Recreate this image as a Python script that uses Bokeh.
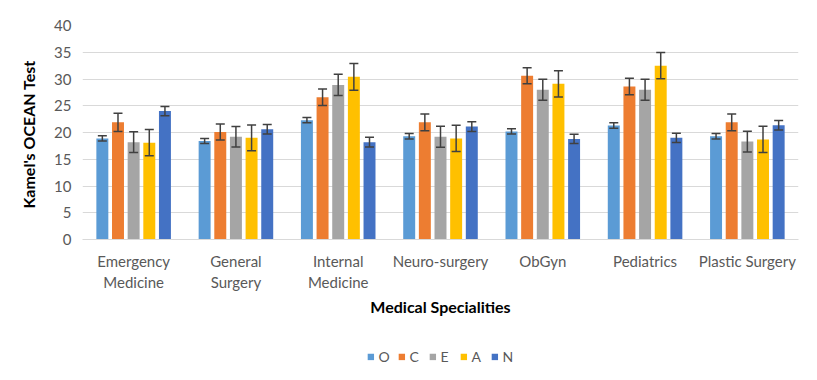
from bokeh.plotting import figure
from bokeh.models import ColumnDataSource, Whisker, Legend, LegendItem, FixedTicker
from bokeh.layouts import column
from bokeh.transform import dodge
from bokeh.embed import file_html
from bokeh.resources import INLINE

categories = ["Emergency\nMedicine", "General\nSurgery", "Internal\nMedicine",
              "Neuro-surgery", "ObGyn", "Pediatrics", "Plastic Surgery"]
series = ["O", "C", "E", "A", "N"]

O = [18.9, 18.4, 22.3, 19.3, 20.2, 21.3, 19.3]
O_err = [0.5, 0.47, 0.5, 0.5, 0.5, 0.5, 0.5]
C = [21.9, 20.1, 26.6, 21.9, 30.6, 28.6, 21.9]
C_err = [1.7, 1.5, 1.55, 1.55, 1.5, 1.55, 1.55]
E = [18.2, 19.2, 28.9, 19.2, 28.0, 28.0, 18.3]
E_err = [1.95, 1.9, 2.0, 1.95, 1.95, 1.95, 1.95]
A = [18.1, 19.0, 30.4, 18.9, 29.1, 32.5, 18.7]
A_err = [2.45, 2.4, 2.5, 2.45, 2.45, 2.45, 2.45]
N = [24.0, 20.6, 18.2, 21.1, 18.8, 19.0, 21.35]
N_err = [0.85, 0.9, 0.9, 0.9, 0.87, 0.87, 0.87]

values = {"O": O, "C": C, "E": E, "A": A, "N": N}
errors = {"O": O_err, "C": C_err, "E": E_err, "A": A_err, "N": N_err}
colors = {"O": "#5B9BD5", "C": "#ED7D31", "E": "#A5A5A5", "A": "#FFC000", "N": "#4472C4"}
offsets = [-0.306, -0.153, 0.0, 0.153, 0.306]

FONT = "Lato"

p = figure(x_range=categories, y_range=(0, 40), width=817, height=332,
           output_backend="svg", toolbar_location=None,
           min_border_left=82, min_border_right=19, min_border_top=25, min_border_bottom=93)
p.outline_line_color = None

for s, off in zip(series, offsets):
    src = ColumnDataSource(dict(cat=categories, v=values[s],
                                up=[a + b for a, b in zip(values[s], errors[s])],
                                lo=[a - b for a, b in zip(values[s], errors[s])]))
    p.vbar(x=dodge("cat", off, range=p.x_range), top="v", width=0.117,
           source=src, fill_color=colors[s], line_color=None)
    w = Whisker(base=dodge("cat", off, range=p.x_range), upper="up", lower="lo",
                source=src, line_color="#404040", line_width=1.5, level="overlay")
    for h in (w.upper_head, w.lower_head):
        h.size = 9
        h.line_color = "#404040"
        h.line_width = 1.5
    p.add_layout(w)

# y axis
p.yaxis.ticker = FixedTicker(ticks=[0, 5, 10, 15, 20, 25, 30, 35, 40])
p.yaxis.axis_line_color = None
p.yaxis.major_tick_line_color = None
p.yaxis.minor_tick_line_color = None
p.yaxis.major_tick_out = 0
p.yaxis.major_label_text_font = FONT
p.yaxis.major_label_text_font_size = "15px"
p.yaxis.major_label_text_color = "#595959"
p.yaxis.major_label_standoff = 11
p.yaxis.axis_label = "Kamel's OCEAN  Test"
p.yaxis.axis_label_text_font = FONT
p.yaxis.axis_label_text_font_style = "bold"
p.yaxis.axis_label_text_font_size = "16px"
p.yaxis.axis_label_text_color = "black"
p.yaxis.axis_label_standoff = 13

# x axis
p.xaxis.axis_line_color = "#D9D9D9"
p.xaxis.major_tick_line_color = None
p.xaxis.minor_tick_line_color = None
p.xaxis.major_tick_out = 0
p.xaxis.major_label_text_font = FONT
p.xaxis.major_label_text_font_size = "15px"
p.xaxis.major_label_text_color = "#595959"
p.xaxis.major_label_standoff = 12
p.xaxis.axis_label = "Medical Specialities"
p.xaxis.axis_label_text_font = FONT
p.xaxis.axis_label_text_font_style = "bold"
p.xaxis.axis_label_text_font_size = "16px"
p.xaxis.axis_label_text_color = "black"
p.xaxis.axis_label_standoff = 3

p.xgrid.grid_line_color = None
p.ygrid.grid_line_color = "#D9D9D9"
p.ygrid.grid_line_width = 1

# legend in its own strip below the chart (swatch glyphs kept off-screen)
lg = figure(width=817, height=48, output_backend="svg", toolbar_location=None,
            x_axis_type=None, y_axis_type=None, min_border=0,
            x_range=(0, 1), y_range=(0, 1))
lg.outline_line_color = None
lg.grid.visible = False
items = []
for s in series:
    r = lg.vbar(x=[-10], top=[-10], bottom=[-11], width=0.5,
                fill_color=colors[s], line_color=None)
    items.append(LegendItem(label=s, renderers=[r]))
legend = Legend(items=items, orientation="horizontal", location="center",
                glyph_width=8, glyph_height=8, label_standoff=4, spacing=8,
                label_width=11, label_height=16,
                label_text_font=FONT, label_text_font_size="14px",
                label_text_color="#595959", background_fill_alpha=0,
                border_line_color=None, margin=0, padding=4)
lg.add_layout(legend)

layout = column(p, lg, spacing=0)
open("out.html", "w").write(file_html(layout, INLINE))
